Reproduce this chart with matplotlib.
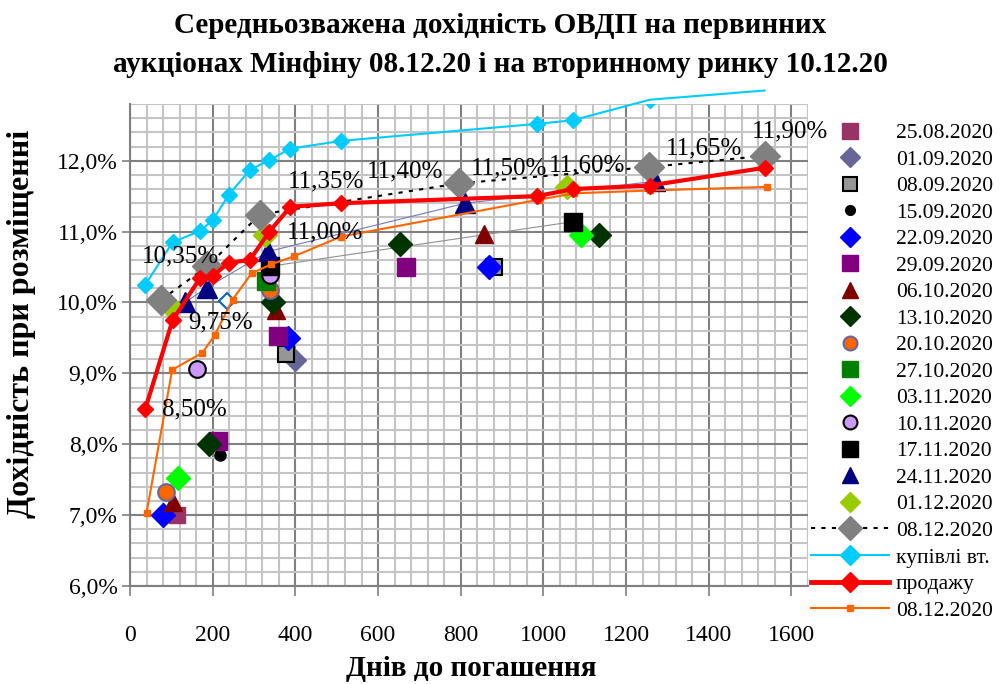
import matplotlib
matplotlib.use("Agg")
import matplotlib.pyplot as plt
from matplotlib.ticker import MultipleLocator, FuncFormatter
from matplotlib.lines import Line2D

plt.rcParams['font.family'] = ['Liberation Serif', 'DejaVu Serif']

# ---------------- data ----------------
title = "Середньозважена дохідність ОВДП на первинних\nаукціонах Мінфіну 08.12.20 і на вторинному ринку 10.12.20"
xlabel = "Днів до погашення"
ylabel = "Дохідність при розміщенні"

auction_dates = ["25.08.2020", "01.09.2020", "08.09.2020", "15.09.2020", "22.09.2020",
                 "29.09.2020", "06.10.2020", "13.10.2020", "20.10.2020", "27.10.2020",
                 "03.11.2020", "10.11.2020", "17.11.2020", "24.11.2020", "01.12.2020",
                 "08.12.2020"]
auction_days = [
    [113],
    [398],
    [378, 881],
    [217],
    [80, 382, 869],
    [213, 358, 668],
    [105, 354, 857],
    [191, 346, 654, 1134],
    [88, 338],
    [330],
    [117, 1090],
    [162, 338],
    [338, 1072],
    [133, 186, 335, 811, 1271],
    [94, 326, 1058],
    [76, 187, 314, 796, 1255, 1536],
]
auction_yields = [
    [7.00],
    [9.19],
    [9.28, 10.50],
    [7.85],
    [7.00, 9.50, 10.50],
    [8.04, 9.52, 10.50],
    [7.19, 9.90, 10.96],
    [8.00, 10.01, 10.83, 10.95],
    [7.33, 10.18],
    [10.30],
    [7.52, 10.95],
    [9.06, 10.39],
    [10.51, 11.14],
    [10.00, 10.21, 10.72, 11.40, 11.71],
    [9.97, 10.95, 11.63],
    [10.04, 10.51, 11.24, 11.68, 11.91, 12.07],
]
extra_day = [235]
extra_yield = [10.02]

market_days = [37, 103, 170, 201, 239, 290, 337, 388, 511, 985, 1071, 1257, 1535]
buy_yields = [10.25, 10.85, 11.01, 11.17, 11.52, 11.87, 12.01, 12.17, 12.28, 12.52, 12.57, 12.86, 12.99]
sell_yields = [8.50, 9.75, 10.35, 10.38, 10.56, 10.60, 11.00, 11.35, 11.40, 11.50, 11.60, 11.65, 11.90]
sell_label_idx = [0, 1, 2, 6, 7, 8, 9, 10, 11, 12]

prev_days = [40, 102, 175, 205, 248, 294, 342, 396, 511, 989, 1074, 1259, 1540]
prev_yields = [7.03, 9.05, 9.29, 9.54, 10.04, 10.41, 10.54, 10.65, 10.93, 11.45, 11.54, 11.58, 11.63]

legend_buy = "купівлі вт."
legend_sell = "продажу"
legend_prev = "08.12.2020"

# ---------------- styles ----------------
styles = [
    dict(marker='s', ms=12, mfc='#993366', mec='#993366'),
    dict(marker='D', ms=11, mfc='#666699', mec='#666699'),
    dict(marker='s', ms=11, mfc='#969696', mec='black', mew=1.5),
    dict(marker='o', ms=8, mfc='black', mec='black'),
    dict(marker='D', ms=12, mfc='#0000FF', mec='#0000FF'),
    dict(marker='s', ms=13, mfc='#800080', mec='#800080'),
    dict(marker='^', ms=13, mfc='#800000', mec='#800000'),
    dict(marker='D', ms=12, mfc='#003300', mec='#003300'),
    dict(marker='o', ms=12, mfc='#FF6600', mec='#666699', mew=1.5),
    dict(marker='s', ms=13, mfc='#008000', mec='#008000'),
    dict(marker='D', ms=12, mfc='#00FF00', mec='#00FF00'),
    dict(marker='o', ms=12, mfc='#CC99FF', mec='black', mew=1.5),
    dict(marker='s', ms=13, mfc='black', mec='black'),
    dict(marker='^', ms=14, mfc='#000080', mec='#000080'),
    dict(marker='D', ms=12, mfc='#99CC00', mec='#99CC00'),
    dict(marker='D', ms=15, mfc='#808080', mec='#808080'),
]
legend_ms = [11, 10, 10, 7, 10, 12, 12, 10, 10, 12, 10, 10, 11, 12, 10, 12]

fig = plt.figure(figsize=(10.01, 6.84), dpi=100)
ax = fig.add_axes([130/1001, 1-586/684, (808-130)/1001, (586-104)/684])
ax.set_xlim(0, 1640)
ax.set_ylim(6.0, 12.8)

ax.xaxis.set_major_locator(MultipleLocator(200))
ax.xaxis.set_minor_locator(MultipleLocator(40))
ax.yaxis.set_major_locator(MultipleLocator(1.0))
ax.yaxis.set_minor_locator(MultipleLocator(0.2))
ax.grid(which='minor', color='#c4c4c4', lw=1.5, zorder=0)
ax.grid(which='major', color='#808080', lw=1.5, zorder=0)
ax.set_axisbelow(True)
ax.yaxis.set_major_formatter(FuncFormatter(lambda v, p: f"{v:.1f}%".replace('.', ',')))
ax.set_xticks(range(0, 1601, 200))
ax.tick_params(axis='x', which='major', direction='out', length=7, width=1.2, color='#808080',
               pad=21, labelsize=17)
ax.tick_params(axis='y', which='major', direction='out', length=6, width=1.2, color='#808080',
               pad=3, labelsize=17)
ax.tick_params(which='minor', length=0)
for s in ['top', 'right']:
    ax.spines[s].set_visible(False)
for s in ['left', 'bottom']:
    ax.spines[s].set_color('#808080')
    ax.spines[s].set_linewidth(1.5)

handles = []
# thin connecting lines
ax.plot(auction_days[12], auction_yields[12], color='#909090', lw=0.8, zorder=2)
ax.plot(auction_days[13], auction_yields[13], color='#7777bb', lw=0.8, zorder=2)

for i, (d, y, st) in enumerate(zip(auction_days, auction_yields, styles)):
    if i == 15:
        ax.plot(d, y, ls=(0, (2, 3)), color='black', lw=1.5, zorder=3, **st)
    else:
        ax.plot(d, y, ls='none', zorder=3, **st)
    hst = dict(st)
    hst['ms'] = legend_ms[i]
    if i == 15:
        handles.append(Line2D([], [], ls=(0, (2, 3)), color='black', lw=1.5, **hst))
    else:
        handles.append(Line2D([], [], ls='none', **hst))

ax.plot(extra_day, extra_yield, ls='none', marker='D', ms=8, mfc='white', mec='#0066CC', mew=1.5, zorder=3)

# secondary market lines
ax.plot(market_days, buy_yields, color='#00CCFF', lw=1.5, zorder=4, clip_on=False)
ax.plot(market_days, buy_yields, ls='none', marker='D', ms=8, color='#00CCFF', zorder=4)
ax.plot(market_days, sell_yields, color='#FF0000', lw=3, marker='D', ms=8, zorder=5)
ax.plot(prev_days, prev_yields, color='#FF6600', lw=1.5, marker='s', ms=4, zorder=4)

handles.append(Line2D([], [], color='#00CCFF', lw=1.5, marker='D', ms=10))
handles.append(Line2D([], [], color='#FF0000', lw=3.5, marker='D', ms=10))
handles.append(Line2D([], [], color='#FF6600', lw=1.5, marker='s', ms=4))
labels = auction_dates + [legend_buy, legend_sell, legend_prev]

offsets = {0: (49, -1), 1: (48, -2), 2: (-20, 21), 6: (56, -1), 7: (36, 25), 8: (64, 32),
           9: (-28, 28), 10: (14, 24), 11: (54, 37), 12: (25, 36)}
for i in sell_label_idx:
    txt = f"{sell_yields[i]:.2f}%".replace('.', ',')
    ax.annotate(txt, (market_days[i], sell_yields[i]), xytext=offsets[i], textcoords='offset pixels',
                ha='center', va='center', fontsize=18, zorder=6, annotation_clip=False)

fig.legend(handles, labels, loc='upper left', bbox_to_anchor=(811/1001, 1-123/684),
           frameon=False, fontsize=15.5, handlelength=3.6, handletextpad=0.35, labelspacing=0.3,
           borderpad=0, borderaxespad=0, numpoints=1)

fig.text(500/1001, 1-45/684, title, ha='center', va='center', fontsize=21, fontweight='bold',
         linespacing=1.55)
fig.text(471/1001, 1-668/684, xlabel, ha='center', va='center', fontsize=21, fontweight='bold')
fig.text(22/1001, 1-324/684, ylabel, ha='center', va='center', fontsize=23, fontweight='bold',
         rotation=90)

fig.savefig("out.png", dpi=100)
